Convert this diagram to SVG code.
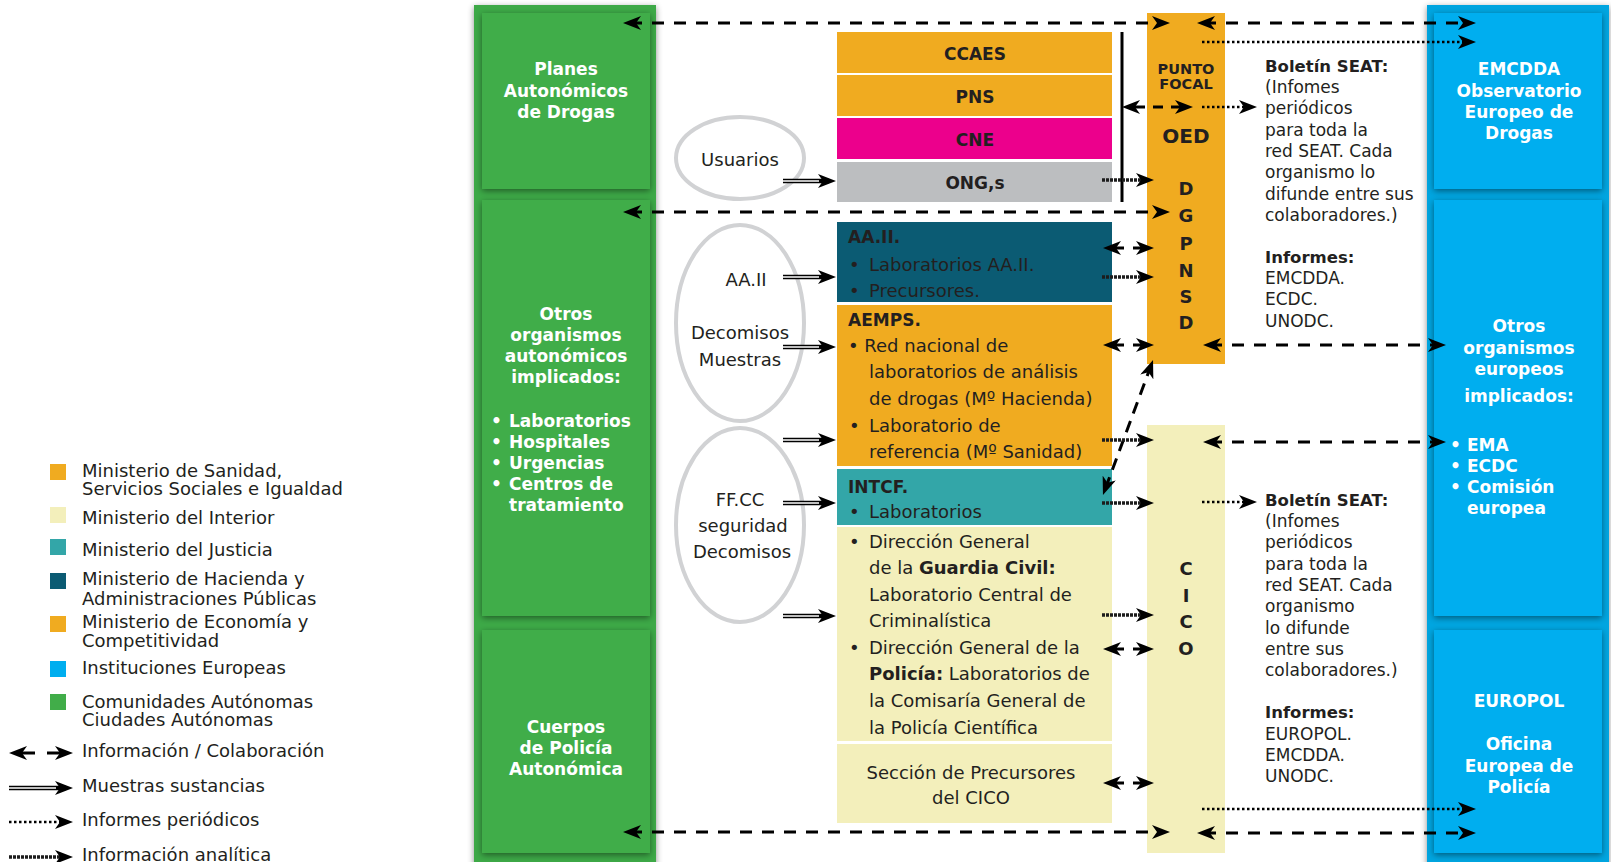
<svg xmlns="http://www.w3.org/2000/svg" width="1611" height="862" viewBox="0 0 1611 862">
<defs>
<style>
text{font-family:"DejaVu Sans","Liberation Sans",sans-serif;fill:#231f20}
.lg{font-size:18px}
.bx{font-size:18px}
.bt{font-weight:bold;font-size:17px}
.wt{font-weight:bold;font-size:17px;fill:#fff;text-anchor:middle}
.wl{font-weight:bold;font-size:17px;fill:#fff}
.c{text-anchor:middle}
.sm{font-size:17px}
.sb{font-size:16.5px;font-weight:bold}
.dash{stroke:#000;stroke-width:3;stroke-dasharray:12 10;fill:none}
.dot{stroke:#000;stroke-width:2.5;stroke-dasharray:2.5 2.5;fill:none}
.ana{stroke:#1c1c1c;stroke-width:3.5;stroke-dasharray:3 1;fill:none}
.dbl{stroke:#000;stroke-width:4.5;fill:none}
.dbw{stroke:#fff;stroke-width:1.6;fill:none}
.ell{fill:none;stroke:#d1d2d4;stroke-width:4}
.or{fill:#f0ab20}
.cr{fill:#f3efbb}
.gi{fill:#41ad49}
.bi{fill:#00aeef}
</style>
<marker id="ah" viewBox="0 0 18 14" refX="11" refY="7" markerWidth="18" markerHeight="14" markerUnits="userSpaceOnUse" orient="auto-start-reverse">
<path d="M0,0 L18,7 L0,14 L5,7 Z" fill="#000"/>
</marker>
<filter id="sh" x="-20%" y="-20%" width="140%" height="140%">
<feDropShadow dx="0" dy="2" stdDeviation="3" flood-color="#000" flood-opacity="0.45"/>
</filter>
</defs>
<rect x="0" y="0" width="1611" height="862" fill="#fff"/>

<!-- Green column -->
<g id="col-ccaa">
<rect x="474" y="5" width="182" height="870" fill="#3ea946" filter="url(#sh)"/>
<g id="planes-autonomicos">
<rect class="gi" x="482" y="13" width="168" height="176" filter="url(#sh)"/>
<text class="wt" x="566" y="75">Planes</text>
<text class="wt" x="566" y="97">Autonómicos</text>
<text class="wt" x="566" y="118">de Drogas</text>
</g>
<g id="otros-autonomicos">
<rect class="gi" x="482" y="200" width="168" height="416" filter="url(#sh)"/>
<text class="wt" x="566" y="320">Otros</text>
<text class="wt" x="566" y="341">organismos</text>
<text class="wt" x="566" y="362">autonómicos</text>
<text class="wt" x="566" y="383">implicados:</text>
<text class="wl" x="491" y="427">•</text><text class="wl" x="509" y="427">Laboratorios</text>
<text class="wl" x="491" y="448">•</text><text class="wl" x="509" y="448">Hospitales</text>
<text class="wl" x="491" y="469">•</text><text class="wl" x="509" y="469">Urgencias</text>
<text class="wl" x="491" y="490">•</text><text class="wl" x="509" y="490">Centros de</text>
<text class="wl" x="509" y="511">tratamiento</text>
</g>
<g id="policia-autonomica">
<rect class="gi" x="482" y="630" width="168" height="223" filter="url(#sh)"/>
<text class="wt" x="566" y="733">Cuerpos</text>
<text class="wt" x="566" y="754">de Policía</text>
<text class="wt" x="566" y="775">Autonómica</text>
</g>
</g>

<!-- Blue column -->
<g id="col-europa">
<rect x="1427" y="5" width="182" height="870" fill="#05a5e0" filter="url(#sh)"/>
<g id="emcdda">
<rect class="bi" x="1434" y="13" width="168" height="176" filter="url(#sh)"/>
<text class="wt" x="1519" y="75">EMCDDA</text>
<text class="wt" x="1519" y="97">Observatorio</text>
<text class="wt" x="1519" y="118">Europeo de</text>
<text class="wt" x="1519" y="139">Drogas</text>
</g>
<g id="otros-europeos">
<rect class="bi" x="1434" y="200" width="168" height="416" filter="url(#sh)"/>
<text class="wt" x="1519" y="332">Otros</text>
<text class="wt" x="1519" y="354">organismos</text>
<text class="wt" x="1519" y="375">europeos</text>
<text class="wt" x="1519" y="402">implicados:</text>
<text class="wl" x="1450" y="451">•</text><text class="wl" x="1467" y="451">EMA</text>
<text class="wl" x="1450" y="472">•</text><text class="wl" x="1467" y="472">ECDC</text>
<text class="wl" x="1450" y="493">•</text><text class="wl" x="1467" y="493">Comisión</text>
<text class="wl" x="1467" y="514">europea</text>
</g>
<g id="europol">
<rect class="bi" x="1434" y="630" width="168" height="223" filter="url(#sh)"/>
<text class="wt" x="1519" y="707">EUROPOL</text>
<text class="wt" x="1519" y="750">Oficina</text>
<text class="wt" x="1519" y="772">Europea de</text>
<text class="wt" x="1519" y="793">Policía</text>
</g>
</g>

<!-- Top stack -->
<g id="ccaes"><rect class="or" x="837" y="32" width="275" height="41"/><text class="bt c" x="975" y="60">CCAES</text></g>
<g id="pns"><rect class="or" x="837" y="75" width="275" height="41"/><text class="bt c" x="975" y="103">PNS</text></g>
<g id="cne"><rect fill="#ec008c" x="837" y="118" width="275" height="41"/><text class="bt c" x="975" y="146">CNE</text></g>
<g id="ongs"><rect fill="#bcbec0" x="837" y="162" width="275" height="40"/><text class="bt c" x="975" y="189">ONG,s</text></g>
<line x1="1122" y1="32" x2="1122" y2="202" stroke="#000" stroke-width="3"/>

<g id="aaii">
<rect fill="#0b5b73" x="837" y="222" width="275" height="80"/>
<text class="bt" x="848" y="243">AA.II.</text>
<text class="bx" x="849" y="271">•</text><text class="bx" x="869" y="271">Laboratorios AA.II.</text>
<text class="bx" x="849" y="297">•</text><text class="bx" x="869" y="297">Precursores.</text>
</g>
<g id="aemps">
<rect class="or" x="837" y="305" width="275" height="161"/>
<text class="bt" x="848" y="326">AEMPS.</text>
<text class="bx" x="848" y="352">• Red nacional de</text>
<text class="bx" x="869" y="378">laboratorios de análisis</text>
<text class="bx" x="869" y="405">de drogas (Mº Hacienda)</text>
<text class="bx" x="849" y="432">•</text><text class="bx" x="869" y="432">Laboratorio de</text>
<text class="bx" x="869" y="458">referencia (Mº Sanidad)</text>
</g>
<g id="intcf">
<rect fill="#33a6a8" x="837" y="469" width="275" height="56"/>
<text class="bt" x="848" y="493">INTCF.</text>
<text class="bx" x="849" y="518">•</text><text class="bx" x="869" y="518">Laboratorios</text>
</g>
<g id="interior">
<rect class="cr" x="837" y="527" width="275" height="214"/>
<text class="bx" x="849" y="548">•</text><text class="bx" x="869" y="548">Dirección General</text>
<text class="bx" x="869" y="574">de la <tspan font-weight="bold">Guardia Civil:</tspan></text>
<text class="bx" x="869" y="601">Laboratorio Central de</text>
<text class="bx" x="869" y="627">Criminalística</text>
<text class="bx" x="849" y="654">•</text><text class="bx" x="869" y="654">Dirección General de la</text>
<text class="bx" x="869" y="680"><tspan font-weight="bold">Policía:</tspan> Laboratorios de</text>
<text class="bx" x="869" y="707">la Comisaría General de</text>
<text class="bx" x="869" y="734">la Policía Científica</text>
</g>
<g id="precursores-cico">
<rect class="cr" x="837" y="744" width="275" height="79"/>
<text class="bx c" x="971" y="779">Sección de Precursores</text>
<text class="bx c" x="971" y="804">del CICO</text>
</g>

<g id="dgpnsd">
<rect class="or" x="1147" y="13" width="78" height="351"/>
<text class="c" x="1186" y="74" font-weight="bold" font-size="14.5">PUNTO</text>
<text class="c" x="1186" y="89" font-weight="bold" font-size="14.5">FOCAL</text>
<text class="c" x="1186" y="143" font-weight="bold" font-size="20">OED</text>
<text class="c" x="1186" y="195" font-weight="bold" font-size="18">D</text>
<text class="c" x="1186" y="222" font-weight="bold" font-size="18">G</text>
<text class="c" x="1186" y="250" font-weight="bold" font-size="18">P</text>
<text class="c" x="1186" y="277" font-weight="bold" font-size="18">N</text>
<text class="c" x="1186" y="303" font-weight="bold" font-size="18">S</text>
<text class="c" x="1186" y="329" font-weight="bold" font-size="18">D</text>
</g>
<g id="cico">
<rect class="cr" x="1147" y="425" width="78" height="428"/>
<text class="c" x="1186" y="575" font-weight="bold" font-size="18">C</text>
<text class="c" x="1186" y="602" font-weight="bold" font-size="18">I</text>
<text class="c" x="1186" y="628" font-weight="bold" font-size="18">C</text>
<text class="c" x="1186" y="655" font-weight="bold" font-size="18">O</text>
</g>

<g id="usuarios"><ellipse class="ell" cx="740" cy="158" rx="64" ry="41"/><text class="bx c" x="740" y="166">Usuarios</text></g>
<g id="aaii-decomisos"><ellipse class="ell" cx="740" cy="323" rx="64" ry="98"/>
<text class="bx c" x="746" y="286">AA.II</text>
<text class="bx c" x="740" y="339">Decomisos</text>
<text class="bx c" x="740" y="366">Muestras</text></g>
<g id="ffcc"><ellipse class="ell" cx="740" cy="525" rx="64" ry="97"/>
<text class="bx c" x="740" y="506">FF.CC</text>
<text class="bx c" x="743" y="532">seguridad</text>
<text class="bx c" x="742" y="558">Decomisos</text></g>

<g id="boletin-oed">
<text x="1265" y="72" class="sb">Boletín SEAT:</text>
<text x="1265" y="93" class="sm">(Infomes</text>
<text x="1265" y="114" class="sm">periódicos</text>
<text x="1265" y="136" class="sm">para toda la</text>
<text x="1265" y="157" class="sm">red SEAT. Cada</text>
<text x="1265" y="178" class="sm">organismo lo</text>
<text x="1265" y="200" class="sm">difunde entre sus</text>
<text x="1265" y="221" class="sm">colaboradores.)</text>
<text x="1265" y="263" class="sb">Informes:</text>
<text x="1265" y="284" class="sm">EMCDDA.</text>
<text x="1265" y="305" class="sm">ECDC.</text>
<text x="1265" y="327" class="sm">UNODC.</text>
</g>
<g id="boletin-cico">
<text x="1265" y="506" class="sb">Boletín SEAT:</text>
<text x="1265" y="527" class="sm">(Infomes</text>
<text x="1265" y="548" class="sm">periódicos</text>
<text x="1265" y="570" class="sm">para toda la</text>
<text x="1265" y="591" class="sm">red SEAT. Cada</text>
<text x="1265" y="612" class="sm">organismo</text>
<text x="1265" y="634" class="sm">lo difunde</text>
<text x="1265" y="655" class="sm">entre sus</text>
<text x="1265" y="676" class="sm">colaboradores.)</text>
<text x="1265" y="718" class="sb">Informes:</text>
<text x="1265" y="740" class="sm">EUROPOL.</text>
<text x="1265" y="761" class="sm">EMCDDA.</text>
<text x="1265" y="782" class="sm">UNODC.</text>
</g>

<!-- Connectors -->
<g id="connectors">
<line class="dash" x1="630" y1="23" x2="1163" y2="23" marker-start="url(#ah)" marker-end="url(#ah)"/>
<line class="dash" x1="1204" y1="23" x2="1469" y2="23" marker-start="url(#ah)" marker-end="url(#ah)"/>
<line class="dash" x1="630" y1="212" x2="1163" y2="212" marker-start="url(#ah)" marker-end="url(#ah)"/>
<line class="dash" x1="630" y1="832" x2="1163" y2="832" marker-start="url(#ah)" marker-end="url(#ah)"/>
<line class="dash" x1="1204" y1="833" x2="1469" y2="833" marker-start="url(#ah)" marker-end="url(#ah)"/>
<line class="dash" x1="1210" y1="345" x2="1439" y2="345" marker-start="url(#ah)" marker-end="url(#ah)"/>
<line class="dash" x1="1210" y1="442" x2="1439" y2="442" marker-start="url(#ah)" marker-end="url(#ah)"/>
<line class="dash" x1="1129" y1="107" x2="1186" y2="107" style="stroke-dasharray:16 8 10 8 15" marker-start="url(#ah)" marker-end="url(#ah)"/>
<line class="dash" x1="1105.4" y1="488.4" x2="1150.6" y2="366.6" style="stroke-dasharray:12 8" marker-start="url(#ah)" marker-end="url(#ah)"/>
<line class="dash" x1="1110" y1="248" x2="1147" y2="248" style="stroke-dasharray:14 9 14" marker-start="url(#ah)" marker-end="url(#ah)"/>
<line class="dash" x1="1110" y1="345" x2="1147" y2="345" style="stroke-dasharray:14 9 14" marker-start="url(#ah)" marker-end="url(#ah)"/>
<line class="dash" x1="1110" y1="649" x2="1147" y2="649" style="stroke-dasharray:14 9 14" marker-start="url(#ah)" marker-end="url(#ah)"/>
<line class="dash" x1="1110" y1="783" x2="1147" y2="783" style="stroke-dasharray:14 9 14" marker-start="url(#ah)" marker-end="url(#ah)"/>
<line class="dot" x1="1202" y1="42" x2="1469" y2="42" marker-end="url(#ah)"/>
<line class="dot" x1="1202" y1="809" x2="1469" y2="809" marker-end="url(#ah)"/>
<line class="dot" x1="1202" y1="107" x2="1250" y2="107" marker-end="url(#ah)"/>
<line class="dot" x1="1202" y1="502" x2="1250" y2="502" marker-end="url(#ah)"/>
<line class="ana" x1="1102" y1="180" x2="1147" y2="180" marker-end="url(#ah)"/>
<line class="ana" x1="1102" y1="277" x2="1147" y2="277" marker-end="url(#ah)"/>
<line class="ana" x1="1102" y1="440" x2="1147" y2="440" marker-end="url(#ah)"/>
<line class="ana" x1="1102" y1="503" x2="1147" y2="503" marker-end="url(#ah)"/>
<line class="ana" x1="1102" y1="615" x2="1147" y2="615" marker-end="url(#ah)"/>
<g>
<line class="dbl" x1="783" y1="181" x2="829" y2="181" marker-end="url(#ah)"/><line class="dbw" x1="783" y1="181" x2="819" y2="181"/>
<line class="dbl" x1="783" y1="277" x2="829" y2="277" marker-end="url(#ah)"/><line class="dbw" x1="783" y1="277" x2="819" y2="277"/>
<line class="dbl" x1="783" y1="347" x2="829" y2="347" marker-end="url(#ah)"/><line class="dbw" x1="783" y1="347" x2="819" y2="347"/>
<line class="dbl" x1="783" y1="440" x2="829" y2="440" marker-end="url(#ah)"/><line class="dbw" x1="783" y1="440" x2="819" y2="440"/>
<line class="dbl" x1="783" y1="503" x2="829" y2="503" marker-end="url(#ah)"/><line class="dbw" x1="783" y1="503" x2="819" y2="503"/>
<line class="dbl" x1="783" y1="616" x2="829" y2="616" marker-end="url(#ah)"/><line class="dbw" x1="783" y1="616" x2="819" y2="616"/>
</g>
</g>

<!-- Legend -->
<g id="legend">
<rect class="or" x="50" y="464" width="16" height="16"/>
<text class="lg" x="82" y="477">Ministerio de Sanidad,</text>
<text class="lg" x="82" y="495">Servicios Sociales e Igualdad</text>
<rect class="cr" x="50" y="507" width="16" height="16"/>
<text class="lg" x="82" y="524">Ministerio del Interior</text>
<rect fill="#33a6a8" x="50" y="539" width="16" height="16"/>
<text class="lg" x="82" y="556">Ministerio del Justicia</text>
<rect fill="#0b5b73" x="50" y="573" width="16" height="16"/>
<text class="lg" x="82" y="585">Ministerio de Hacienda y</text>
<text class="lg" x="82" y="605">Administraciones Públicas</text>
<rect class="or" x="50" y="616" width="16" height="16"/>
<text class="lg" x="82" y="628">Ministerio de Economía y</text>
<text class="lg" x="82" y="647">Competitividad</text>
<rect class="bi" x="50" y="661" width="16" height="16"/>
<text class="lg" x="82" y="674">Instituciones Europeas</text>
<rect class="gi" x="50" y="694" width="16" height="16"/>
<text class="lg" x="82" y="708">Comunidades Autónomas</text>
<text class="lg" x="82" y="726">Ciudades Autónomas</text>
<line class="dash" x1="16" y1="753" x2="66" y2="753" style="stroke-dasharray:19 12 19" marker-start="url(#ah)" marker-end="url(#ah)"/>
<text class="lg" x="82" y="757">Información / Colaboración</text>
<line class="dbl" x1="9" y1="788" x2="66" y2="788" marker-end="url(#ah)"/><line class="dbw" x1="9" y1="788" x2="56" y2="788"/>
<text class="lg" x="82" y="792">Muestras sustancias</text>
<line class="dot" x1="9" y1="822" x2="66" y2="822" marker-end="url(#ah)"/>
<text class="lg" x="82" y="826">Informes periódicos</text>
<line class="ana" x1="9" y1="857" x2="66" y2="857" marker-end="url(#ah)"/>
<text class="lg" x="82" y="861">Información analítica</text>
</g>
</svg>
